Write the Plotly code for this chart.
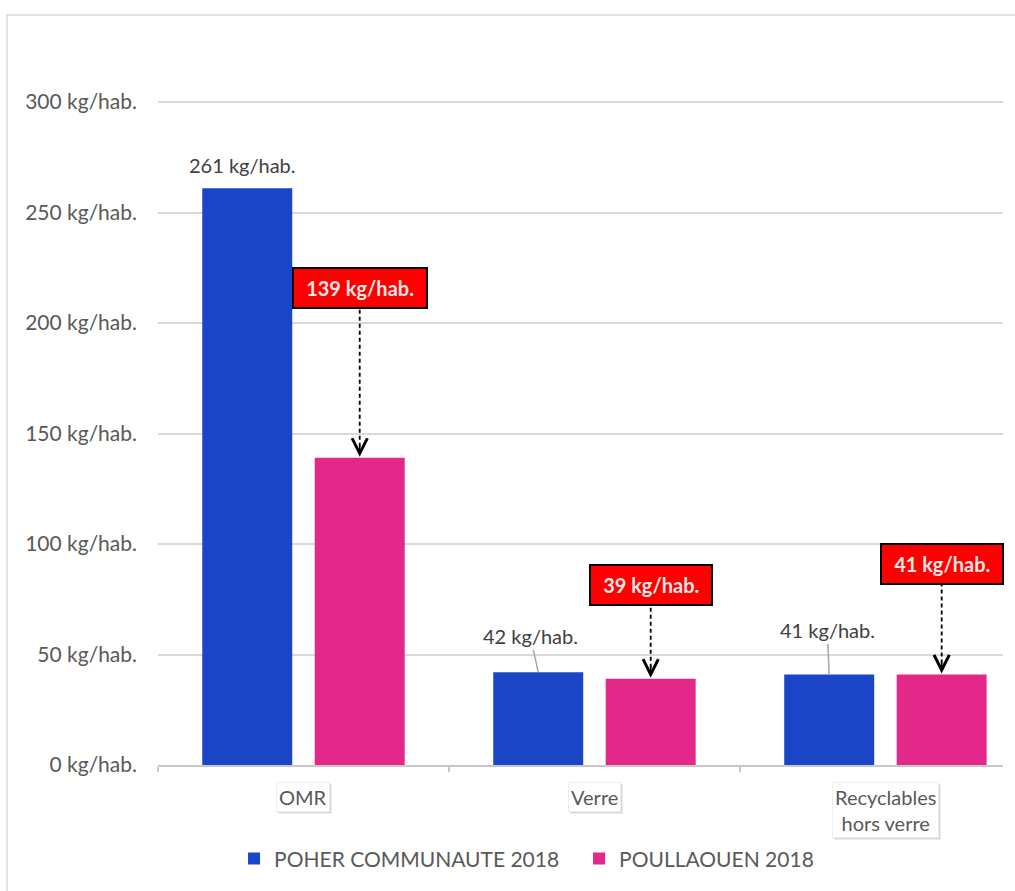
import plotly.graph_objects as go

categories = ["OMR", "Verre", "Recyclables<br>hors verre"]
series_names = ["POHER COMMUNAUTE 2018", "POULLAOUEN 2018"]
poher = [261, 42, 41]
poullaouen = [139, 39, 41]
y_ticks = [0, 50, 100, 150, 200, 250, 300]
unit = " kg/hab."

BLUE = "#1a45c6"
PINK = "#e3288a"
FONT = "Lato"
GREY = "#595959"
NB = "\u00a0"

xpos = list(range(len(categories)))
bargap = 0.227
bargroupgap = 0.2
off = (1 - bargap) / 4  # centre offset of each bar in its group

fig = go.Figure()
fig.add_trace(go.Bar(x=xpos, y=poher, name=series_names[0], marker_color=BLUE,
                     marker_line_width=0))
fig.add_trace(go.Bar(x=xpos, y=poullaouen, name=series_names[1], marker_color=PINK,
                     marker_line_width=0))

annotations = []
shapes = []

# blue series labels
blue_label_style = [dict(showarrow=False, yshift=23, xshift=-5),
                    dict(showarrow=True, ax=-8, ay=-36),
                    dict(showarrow=True, ax=-2, ay=-44)]
for i, v in enumerate(poher):
    st = blue_label_style[i]
    annotations.append(dict(
        x=i - off, y=v, xref="x", yref="y", text=f"{v}{unit}",
        font=dict(family=FONT, size=20, color="#404040"),
        arrowhead=0, arrowcolor="#a6a6a6", arrowwidth=1.5, standoff=0, **st))

# pink series callouts
pink_shift = [170, 94, 110]
for i, v in enumerate(poullaouen):
    xs = i + off
    annotations.append(dict(
        x=xs, y=v, xref="x", yref="y", text=f"{NB}<b>{v}{unit}</b>{NB}",
        showarrow=False, yshift=pink_shift[i],
        font=dict(family=FONT, size=20, color="#e6e6e6"),
        bgcolor="#ff0000", bordercolor="#000000", borderwidth=2, borderpad=7))
    shapes.append(dict(
        type="line", xref="x", yref="y", x0=xs, x1=xs,
        ysizemode="pixel", yanchor=v, y0=4, y1=pink_shift[i] - 20,
        line=dict(color="#000000", width=1.8, dash="4px,3px")))
    annotations.append(dict(
        x=xs, y=v, xref="x", yref="y", text="", showarrow=True,
        ax=0, ay=-14, arrowhead=5, arrowsize=2, arrowwidth=1.5,
        arrowcolor="#000000", standoff=1))

# category labels (boxed)
for i, c in enumerate(categories):
    annotations.append(dict(
        x=i, y=0, xref="x", yref="y", text=c, showarrow=False,
        yanchor="top", yshift=-19, xshift=2,
        font=dict(family=FONT, size=20, color="#d8d8d8"),
        bgcolor="#d8d8d8", borderpad=2))
    annotations.append(dict(
        x=i, y=0, xref="x", yref="y", text=c, showarrow=False,
        yanchor="top", yshift=-17,
        font=dict(family=FONT, size=20, color=GREY),
        bgcolor="#ffffff", bordercolor="#eeeeee", borderwidth=1, borderpad=2))

# outer chart border
shapes.append(dict(type="rect", xref="paper", yref="paper",
                   x0=-0.1787, x1=1.3, y0=-0.4, y1=1.0949,
                   line=dict(color="#d9d9d9", width=1.5), layer="below"))

fig.update_layout(
    width=1015, height=891,
    margin=dict(l=158, r=12, t=80, b=126),
    paper_bgcolor="#ffffff", plot_bgcolor="#ffffff",
    barmode="group", bargap=bargap, bargroupgap=bargroupgap,
    font=dict(family=FONT, color=GREY),
    showlegend=True,
    legend=dict(orientation="h", x=0.09, xanchor="left", y=-0.137, yanchor="middle",
                font=dict(family=FONT, size=21, color=GREY), itemwidth=30,
                entrywidth=300, entrywidthmode="pixels",
                traceorder="normal"),
    xaxis=dict(range=[-0.5, 2.404], showgrid=False, zeroline=False,
               tickvals=xpos, showticklabels=False, ticks="",
               showline=True, linecolor="#c8c8c8", linewidth=2,
               minor=dict(tickmode="array", tickvals=[-0.5, 0.5, 1.5, 2.5],
                          ticks="outside", ticklen=5, tickcolor="#c8c8c8",
                          tickwidth=1.5, showgrid=False)),
    yaxis=dict(range=[0, 310], tickvals=y_ticks,
               ticktext=[f"{t}{unit}" for t in y_ticks],
               showgrid=True, gridcolor="#d9d9d9", gridwidth=2, zeroline=False,
               showline=False, ticks="", ticklabelstandoff=20,
               tickfont=dict(family=FONT, size=21, color=GREY)),
    annotations=annotations, shapes=shapes,
)

fig.write_html("out.html", config={"displayModeBar": False},
               post_script="document.body.style.margin='0';")
